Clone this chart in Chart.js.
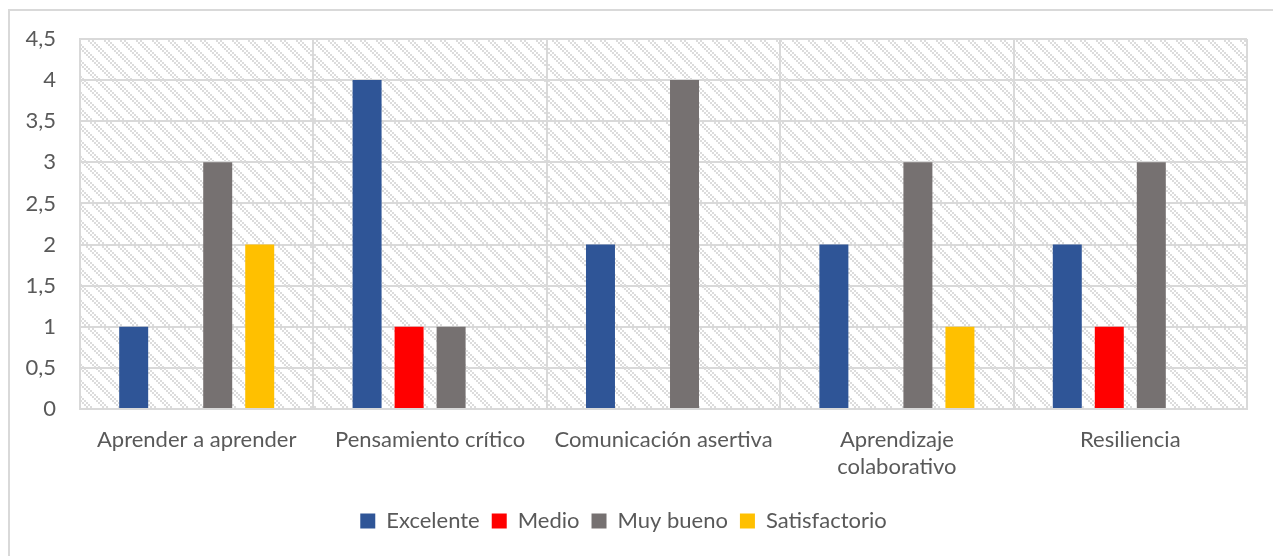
<!DOCTYPE html>
<html><head><meta charset="utf-8">
<script src="https://cdn.jsdelivr.net/npm/chart.js@4.4.0/dist/chart.umd.min.js"></script>
<style>
html,body{margin:0;padding:0;background:#fff;}
#wrap{position:relative;width:1273px;height:556px;overflow:hidden;}
#frame{position:absolute;left:8px;top:9px;width:1400px;height:700px;border:2px solid #d9d9d9;box-sizing:border-box;}
canvas{position:absolute;left:0;top:0;}
</style></head>
<body><div id="wrap"><div id="frame"></div><canvas id="c" width="1273" height="556"></canvas></div>
<script>
const categories = ['Aprender a aprender', 'Pensamiento crítico', 'Comunicación asertiva', ['Aprendizaje', 'colaborativo'], 'Resiliencia'];
const excelente = [1, 4, 2, 2, 2];
const medio = [0, 1, 0, 0, 1];
const muyBueno = [3, 1, 4, 3, 3];
const satisfactorio = [2, 0, 0, 1, 0];
const seriesNames = ['Excelente', 'Medio', 'Muy bueno', 'Satisfactorio'];
const yTicks = [0, 0.5, 1, 1.5, 2, 2.5, 3, 3.5, 4, 4.5];

function makePattern(ctx){
  const t = document.createElement('canvas'); t.width = 16; t.height = 16;
  const c = t.getContext('2d');
  c.fillStyle = '#ffffff'; c.fillRect(0,0,16,16);
  c.fillStyle = '#dcdcdc';
  for (let by=0;by<8;by++) for (let bx=0;bx<8;bx++){
    const d = ((bx - by) % 8 + 8) % 8;
    if (d < 4 && (bx + by) % 2 === 0) c.fillRect(bx*2,by*2,2,2);
  }
  return ctx.createPattern(t,'repeat');
}
const bgPlugin = {
  id:'bg',
  beforeDraw(chart){
    const {ctx, chartArea:a} = chart;
    ctx.save();
    ctx.fillStyle = makePattern(ctx);
    ctx.fillRect(a.left, a.top, a.right-a.left, a.bottom-a.top);
    ctx.restore();
  }
};
const font = {family:'Lato, "Open Sans", sans-serif', size:22};
const ctx = document.getElementById('c').getContext('2d');
new Chart(ctx, {
  type:'bar',
  data:{
    labels: categories,
    datasets:[
      {label:seriesNames[0], data:excelente, backgroundColor:'#2F5597'},
      {label:seriesNames[1], data:medio, backgroundColor:'#FF0000'},
      {label:seriesNames[2], data:muyBueno, backgroundColor:'#767171'},
      {label:seriesNames[3], data:satisfactorio, backgroundColor:'#FFC000'}
    ]
  },
  plugins:[bgPlugin],
  options:{
    responsive:false, animation:false,
    layout:{padding:{top:39, right:26, left:0, bottom:14}},
    datasets:{bar:{categoryPercentage:0.72, barPercentage:0.69}},
    plugins:{
      tooltip:{enabled:false},
      legend:{position:'bottom', labels:{boxWidth:15, boxHeight:15, padding:12, color:'#595959', font:font}}
    },
    scales:{
      x:{
        grid:{color:'#d9d9d9', lineWidth:2, drawTicks:false, offset:true},
        border:{color:'#d9d9d9', width:2},
        ticks:{color:'#595959', font:font, padding:18, maxRotation:0, autoSkip:false},
        afterFit(s){ s.height = 89; }
      },
      y:{
        min:0, max:4.5,
        afterBuildTicks(s){ s.ticks = yTicks.map(v=>({value:v})); },
        grid:{color:'#d9d9d9', lineWidth:2, drawTicks:false},
        border:{color:'#d9d9d9', width:2},
        ticks:{color:'#595959', font:font, padding:24, callback:v=>String(v).replace('.',',')},
        afterFit(s){ s.width = 80; }
      }
    }
  }
});
</script></body></html>
